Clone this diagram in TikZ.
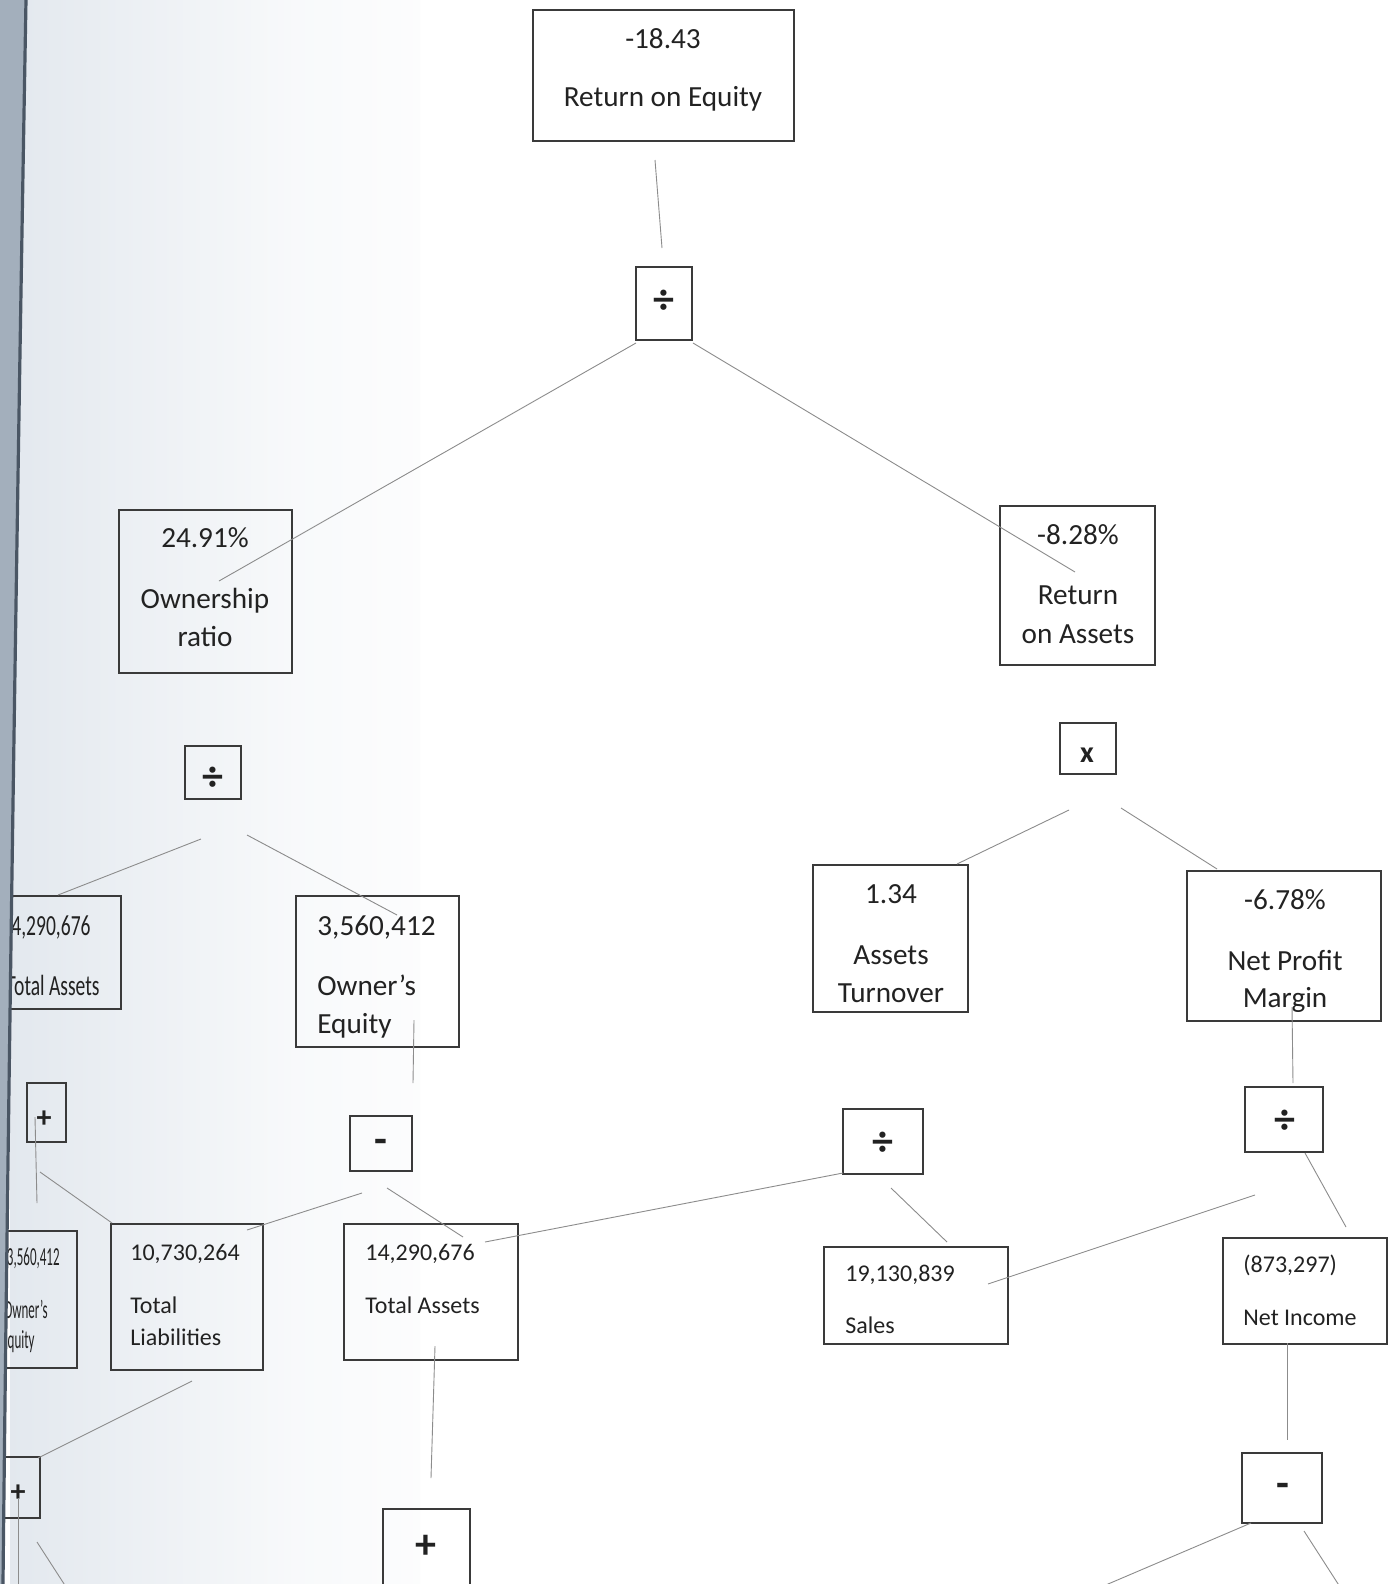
\documentclass[tikz,border=0pt]{standalone}
\usepackage{fontspec}
\setmainfont{Carlito}
\usetikzlibrary{fit}
\definecolor{ink}{HTML}{222222}
\definecolor{boxc}{HTML}{3A3A3A}
\definecolor{tint}{HTML}{D0D9E3}
\definecolor{gutter}{HTML}{A3AFBC}
\definecolor{spine}{HTML}{4A5664}
\pgfdeclarehorizontalshading{pagetint}{100bp}{color(0bp)=(tint); color(25bp)=(tint!60!white); color(60bp)=(tint!15!white); color(85bp)=(white); color(100bp)=(white)}
\begin{document}
\begin{tikzpicture}[x=0.5pt,y=-0.5pt,
 box/.style={draw=boxc, line width=0.9pt, inner sep=0pt},
 big/.style={font=\fontsize{14.6}{17}\selectfont, text=ink, inner sep=0pt},
 small/.style={font=\fontsize{12}{14}\selectfont, text=ink, inner sep=0pt},
 tiny/.style={font=\fontsize{13}{15}\selectfont, text=ink, inner sep=0pt},
 op/.style={font=\fontsize{15}{17}\selectfont\bfseries, text=ink, inner sep=0pt},
 bigop/.style={font=\fontsize{21}{23}\selectfont\bfseries, text=ink, inner sep=0pt},
 link/.style={draw=black!45, line width=0.45pt}]
\useasboundingbox (0,0) rectangle (1388,1584);
\clip (0,0) rectangle (1388,1584);
\fill[white] (0,0) rectangle (1388,1584);
\shade[shading=pagetint] (10,0) rectangle (420,1584);

% ---------- boxes ----------
\node[box, fit={(533,10) (794,141)}] (roe) {};
\node[box, fit={(636,267) (692,340)}] (div1) {};
\node[box, fit={(119,510) (292,673)}] (own) {};
\node[box, fit={(1000,506) (1155,665)}] (roa) {};
\node[box, fit={(185,746) (241,799)}] (div2) {};
\node[box, fit={(1060,723) (1116,774)}] (mul) {};
\node[box, fit={(-10,896) (121,1009)}] (taA) {};
\node[box, fit={(296,896) (459,1047)}] (oe) {};
\node[box, fit={(813,865) (968,1012)}] (at) {};
\node[box, fit={(1187,871) (1381,1021)}] (npm) {};
\node[box, fit={(27,1083) (66,1142)}] (plusA) {};
\node[box, fit={(350,1116) (412,1171)}] (minusA) {};
\node[box, fit={(843,1109) (923,1174)}] (div3) {};
\node[box, fit={(1245,1087) (1323,1152)}] (div4) {};
\node[box, fit={(-10,1231) (77,1368)}] (oeB) {};
\node[box, fit={(111,1224) (263,1370)}] (tl) {};
\node[box, fit={(344,1224) (518,1360)}] (taB) {};
\node[box, fit={(824,1247) (1008,1344)}] (sales) {};
\node[box, fit={(1223,1238) (1387,1344)}] (ni) {};
\node[box, fit={(1242,1453) (1322,1523)}] (minusB) {};
\node[box, fit={(383,1509) (470,1610)}] (plusB) {};
\node[box, fit={(2,1457) (40,1518)}] (plusC) {};

% ---------- texts ----------
\node[big, anchor=base] (roeV) at (663,49) {-18.43};
\node[big, anchor=base] (roeL) at (663,106) {Return on Equity};

\node[big, anchor=base] (ownV) at (205,547) {24.91\%};
\node[big, anchor=base] (ownL1) at (205,608) {Ownership};
\node[big, anchor=base] (ownL2) at (205,646) {ratio};

\node[big, anchor=base] (roaV) at (1078,544) {-8.28\%};
\node[big, anchor=base] (roaL1) at (1078,604) {Return};
\node[big, anchor=base] (roaL2) at (1078,643) {on Assets};

\node[big, anchor=base] (atV) at (891,903) {1.34};
\node[big, anchor=base] (atL1) at (891,964) {Assets};
\node[big, anchor=base] (atL2) at (891,1002) {Turnover};

\node[big, anchor=base] (npmV) at (1285,909) {-6.78\%};
\node[big, anchor=base] (npmL1) at (1285,970) {Net Profit};
\node[big, anchor=base] (npmL2) at (1285,1007) {Margin};

\node[big, anchor=base west] (oeV) at (317,935) {3,560,412};
\node[big, anchor=base west] (oeL1) at (317,995) {Owner’s};
\node[big, anchor=base west] (oeL2) at (317,1033) {Equity};

\node[big, anchor=base east] (taAV) at (91,935) {\scalebox{0.67}[1]{14,290,676}};
\node[big, anchor=base east] (taAL) at (100,995) {\scalebox{0.67}[1]{Total Assets}};

\node[tiny, anchor=base east] (oeBV) at (60,1265) {\scalebox{0.5}[1]{3,560,412}};
\node[tiny, anchor=base east] (oeBL1) at (48,1318) {\scalebox{0.5}[1]{Owner’s}};
\node[tiny, anchor=base east] (oeBL2) at (35,1348) {\scalebox{0.5}[1]{equity}};

\node[small, anchor=base west] (tlV) at (130,1260) {10,730,264};
\node[small, anchor=base west] (tlL1) at (130,1313) {Total};
\node[small, anchor=base west] (tlL2) at (130,1345) {Liabilities};

\node[small, anchor=base west] (taBV) at (365,1260) {14,290,676};
\node[small, anchor=base west] (taBL) at (365,1313) {Total Assets};

\node[small, anchor=base west] (salesV) at (845,1281) {19,130,839};
\node[small, anchor=base west] (salesL) at (845,1333) {Sales};

\node[small, anchor=base west] (niV) at (1243,1272) {(873,297)};
\node[small, anchor=base west] (niL) at (1243,1325) {Net Income};

% ---------- operators ----------
\node[bigop] (div1s) at (664,302) {÷};
\node[bigop] (div2s) at (213,779) {÷};
\node[op] (muls) at (1087,755) {x};
\node[op] (plusAs) at (44,1119) {+};
\node[bigop] (minusAs) at (381,1146) {-};
\node[bigop] (div3s) at (883,1144) {÷};
\node[bigop] (div4s) at (1285,1122) {÷};
\node[bigop] (minusBs) at (1283,1490) {-};
\node[bigop] (plusBs) at (426,1547) {+};
\node[op] (plusCs) at (18,1493) {+};

% ---------- connector end points ----------
\coordinate (a1) at (655,160);   \coordinate (b1) at (662,248);
\coordinate (a2) at (636,343);   \coordinate (b2) at (219,581);
\coordinate (a3) at (693,343);   \coordinate (b3) at (1075,572);
\coordinate (a4) at (201,839);   \coordinate (b4) at (58,895);
\coordinate (a5) at (247,835);   \coordinate (b5) at (397,915);
\coordinate (a6) at (1069,810);  \coordinate (b6) at (957,864);
\coordinate (a7) at (1121,808);  \coordinate (b7) at (1217,869);
\coordinate (a8) at (414,1020);  \coordinate (b8) at (413,1083);
\coordinate (a9) at (35,1117);   \coordinate (b9) at (37,1203);
\coordinate (a10) at (40,1172);  \coordinate (b10) at (112,1223);
\coordinate (a11) at (362,1193); \coordinate (b11) at (247,1230);
\coordinate (a12) at (387,1188); \coordinate (b12) at (463,1237);
\coordinate (a13) at (843,1173); \coordinate (b13) at (485,1242);
\coordinate (a14) at (891,1188); \coordinate (b14) at (947,1242);
\coordinate (a15) at (988,1284); \coordinate (b15) at (1255,1195);
\coordinate (a16) at (1292,1007); \coordinate (b16) at (1293,1083);
\coordinate (a17) at (1305,1153); \coordinate (b17) at (1346,1227);
\coordinate (a18) at (1287,1343); \coordinate (b18) at (1287,1440);
\coordinate (a19) at (1251,1523); \coordinate (b19) at (1094,1590);
\coordinate (a20) at (1304,1531); \coordinate (b20) at (1342,1590);
\coordinate (a21) at (435,1346);  \coordinate (b21) at (431,1478);
\coordinate (a22) at (192,1381);  \coordinate (b22) at (38,1458);
\coordinate (a23) at (18,1498);   \coordinate (b23) at (18,1590);
\coordinate (a24) at (37,1542);   \coordinate (b24) at (68,1590);

\foreach \i in {1,...,24} { \draw[link] (a\i) -- (b\i); }

% ---------- book gutter ----------
\fill[gutter] (0,0) -- (26,0) .. controls (18,450) and (8,1100) .. (3,1584) -- (0,1584) -- cycle;
\draw[spine, line width=1.6pt] (26,0) .. controls (18,450) and (8,1100) .. (3,1584);
\end{tikzpicture}
\end{document}
